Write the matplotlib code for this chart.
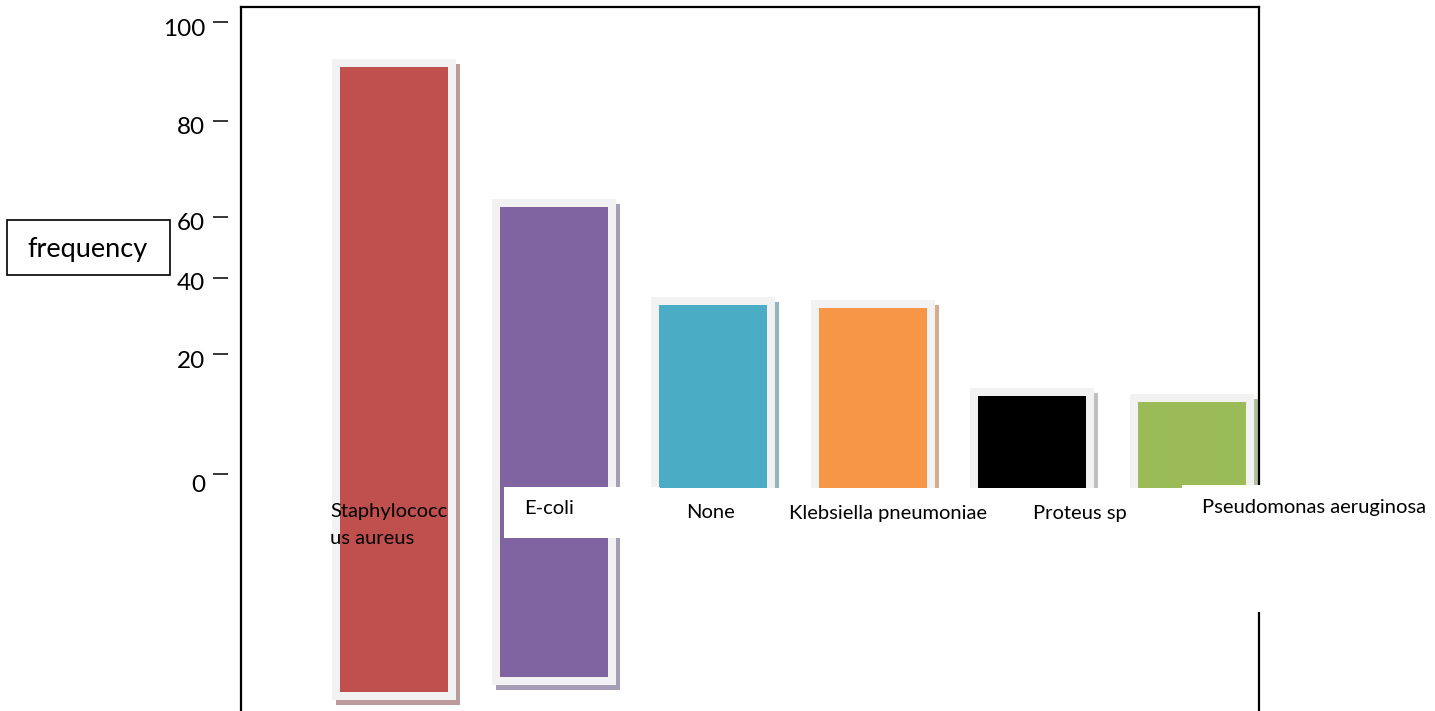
import numpy as np
import matplotlib
matplotlib.use("Agg")
import matplotlib.pyplot as plt
from matplotlib.patches import Rectangle
from matplotlib.lines import Line2D
from matplotlib.transforms import ScaledTranslation

# data
categories = ["Staphylococcus aureus", "E-coli", "None",
              "Klebsiella pneumoniae", "Proteus sp", "Pseudomonas aeruginosa"]
frequency = [91, 62, 33, 32, 13, 12]
tick_values = [0, 20, 40, 60, 80, 100]
tick_labels = ["0", "20", "40", "60", "80", "100"]

# styling
bar_colors = ["#C0504D", "#8064A2", "#4BACC6", "#F79646", "#000000", "#9BBB59"]
shadow_colors = ["#BE9A9A", "#A69DB7", "#93B3C0", "#D6AB8C", "#BFBFBF", "#B3BF9F"]
frame_color = "#F2F2F2"
bar_floor = [-36.3, -33.8, -4, -4, -4, -4]   # bars hang below the zero line

W, H = 1435, 711
DPI = 100
PT = 72 / DPI
plt.rcParams["font.family"] = ["Lato", "DejaVu Sans"]

# the value axis is stretched unevenly between its gridlines
tick_height = np.array([237.0, 357.0, 433.0, 494.0, 590.0, 689.0])
tv = np.array(tick_values, dtype=float)
lo_slope = (tick_height[1] - tick_height[0]) / (tv[1] - tv[0])
hi_slope = (tick_height[-1] - tick_height[-2]) / (tv[-1] - tv[-2])


def forward(v):
    v = np.asarray(v, dtype=float)
    out = np.interp(v, tv, tick_height)
    out = np.where(v < tv[0], tick_height[0] + (v - tv[0]) * lo_slope, out)
    out = np.where(v > tv[-1], tick_height[-1] + (v - tv[-1]) * hi_slope, out)
    return out


def inverse(h):
    h = np.asarray(h, dtype=float)
    out = np.interp(h, tick_height, tv)
    out = np.where(h < tick_height[0], tv[0] + (h - tick_height[0]) / lo_slope, out)
    out = np.where(h > tick_height[-1], tv[-1] + (h - tick_height[-1]) / hi_slope, out)
    return out


def fx(x):
    return x / W


def fy(y):
    return 1 - y / H


fig = plt.figure(figsize=(W / DPI, H / DPI), dpi=DPI)
ax = fig.add_axes([fx(241), 0, (1259 - 241) / W, (H - 7) / H])
ax.set_yscale("function", functions=(forward, inverse))

x = np.arange(len(categories))
step = 159.6
ax.set_xlim(-(394 - 241) / step, len(categories) - 1 + (1259 - 1192) / step)
ax.set_ylim(inverse(0.0), inverse(H - 7.0))

width = 108 / step
edge_pt = 16 * PT
heights = [f - b for f, b in zip(frequency, bar_floor)]
shift = ScaledTranslation(4 / DPI, -5 / DPI, fig.dpi_scale_trans)

# drop shadow, light frame, then the bar itself
ax.bar(x, heights, width, bottom=bar_floor, color=shadow_colors,
       edgecolor=shadow_colors, linewidth=edge_pt, transform=ax.transData + shift,
       zorder=1)
ax.bar(x, heights, width, bottom=bar_floor, color=frame_color,
       edgecolor=frame_color, linewidth=edge_pt, zorder=2)
ax.bar(x, heights, width, bottom=bar_floor, color=bar_colors, linewidth=0, zorder=3)

ax.spines["bottom"].set_visible(False)
for side in ["top", "right"]:
    ax.spines[side].set_linewidth(1.6)
# ticks float a little left of the frame line
ax.spines["left"].set_position(("outward", 13 * PT))
ax.spines["left"].set_visible(False)
ax.add_line(Line2D([0, 0], [0, 1], transform=ax.transAxes, color="black",
                   linewidth=1.6, clip_on=False, zorder=4))

ax.set_yticks(tick_values, tick_labels)
ax.tick_params(axis="y", direction="out", length=15 * PT, width=1.1,
               pad=8 * PT, labelsize=17.5)
ax.tick_params(axis="x", bottom=False, labelbottom=False)
label_drop = [9, 6, 3, 5, 5, 5]
for lab, d in zip(ax.get_yticklabels(), label_drop):
    lab.set_transform(lab.get_transform() + ScaledTranslation(0, -d / DPI, fig.dpi_scale_trans))


def white_box(x0, y0, x1, y1):
    fig.add_artist(Rectangle((fx(x0), fy(y1)), fx(x1) - fx(x0), fy(y0) - fy(y1),
                             transform=fig.transFigure, facecolor="white",
                             edgecolor="none", zorder=5))


# category text boxes sit over the bottom of the bars
white_box(640, 488, 1182, 548)
white_box(504, 487, 660, 538)
white_box(1182, 485, 1433, 612)

names = list(categories)
names[0] = names[0][:12] + "\n" + names[0][12:]
label_pos = [(330, 503, "left", "top"), (524, 509, "left", "center"),
             (710, 513, "center", "center"), (888, 513, "center", "center"),
             (1080, 513, "center", "center"), (1202, 508, "left", "center")]
for name, (lx, ly, ha, va) in zip(names, label_pos):
    fig.text(fx(lx), fy(ly), name, ha=ha, va=va, fontsize=14.5,
             linespacing=1.75, zorder=6)

# boxed axis title
fig.add_artist(Rectangle((fx(7), fy(275)), fx(170) - fx(7), fy(220) - fy(275),
                         transform=fig.transFigure, facecolor="white",
                         edgecolor="black", linewidth=1.2, zorder=5))
fig.text(fx(88), fy(250), "frequency", ha="center", va="center",
         fontsize=19.5, zorder=6)

fig.savefig("out.png", dpi=DPI)
